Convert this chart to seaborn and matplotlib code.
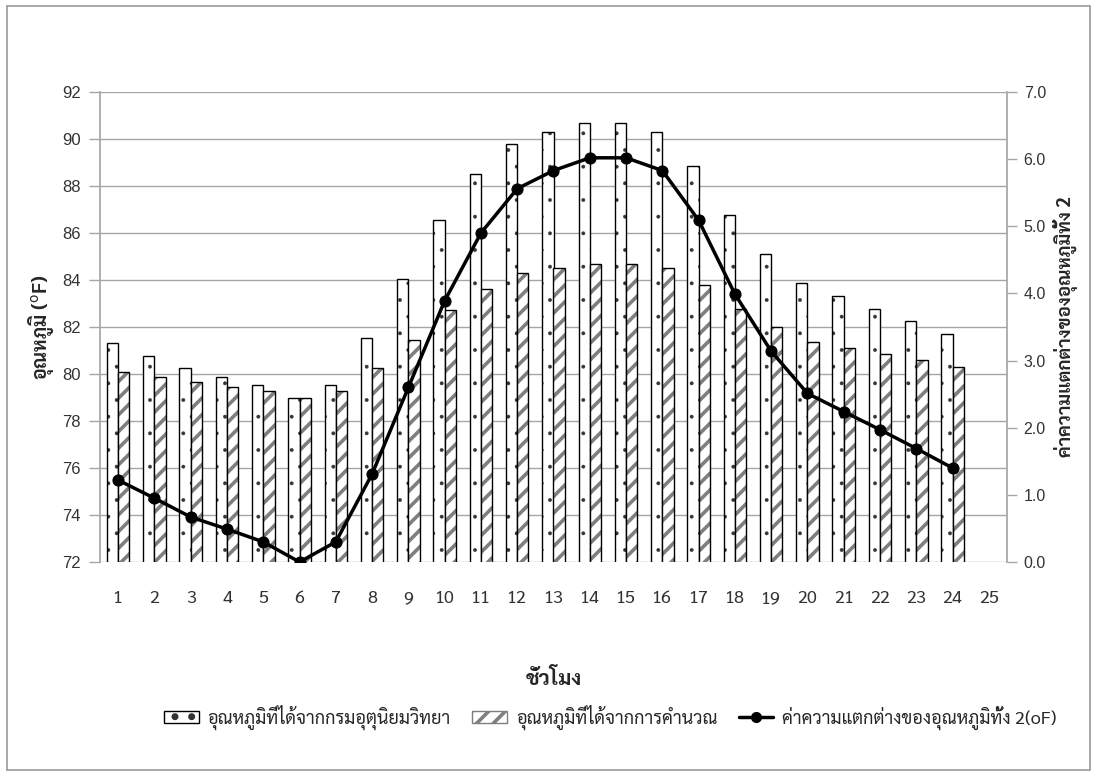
import matplotlib
matplotlib.use("Agg")
import matplotlib.pyplot as plt
import matplotlib.colors as mcolors
from matplotlib import font_manager
from matplotlib.patches import Patch, Rectangle
from matplotlib.lines import Line2D
import numpy as np
import pandas as pd
import seaborn as sns

# ---------------- data ----------------
hours = [str(h) for h in range(1, 26)]
met_temp = [81.31, 80.77, 80.24, 79.86, 79.52, 79.00, 79.52, 81.52, 84.03, 86.57,
            88.50, 89.79, 90.31, 90.67, 90.67, 90.31, 88.87, 86.75, 85.12, 83.86,
            83.31, 82.75, 82.24, 81.69]
calc_temp = [80.10, 79.86, 79.65, 79.43, 79.26, 79.00, 79.26, 80.24, 81.43, 82.71,
             83.60, 84.29, 84.52, 84.70, 84.70, 84.52, 83.77, 82.75, 81.99, 81.37,
             81.09, 80.84, 80.58, 80.30]
diff = [1.22, 0.95, 0.67, 0.49, 0.30, 0.00, 0.30, 1.31, 2.60, 3.89,
        4.90, 5.56, 5.83, 6.02, 6.02, 5.83, 5.09, 3.99, 3.14, 2.51,
        2.24, 1.97, 1.69, 1.40]
series_names = ["อุณหภูมิที่ได้จากกรมอุตุนิยมวิทยา", "อุณหภูมิที่ได้จากการคำนวณ"]
line_name = "ค่าความแตกต่างของอุณหภูมิทั้ง 2(oF)"
y_left_label = "อุณหภูมิ ($^{\\mathrm{o}}$F)"
y_right_label = "ค่าความแตกต่างของอุณหภูมิทั้ง 2"
x_label = "ชั่วโมง"
left_ticks = [72, 74, 76, 78, 80, 82, 84, 86, 88, 90, 92]
right_ticks = [0, 1, 2, 3, 4, 5, 6, 7]

# ---------------- fonts ----------------
names = {f.name for f in font_manager.fontManager.ttflist}
thai = "Sarabun" if "Sarabun" in names else "Noto Sans Thai Looped"
thai_family = [thai, "DejaVu Sans"]
num_font = "Liberation Sans" if "Liberation Sans" in names else "DejaVu Sans"

sns.set_theme(style="white")
plt.rcParams["font.family"] = thai_family
plt.rcParams["hatch.linewidth"] = 2.6

# ---------------- figure ----------------
fig = plt.figure(figsize=(10.96, 7.76), dpi=100)
ax = fig.add_axes([100 / 1096, 1 - 562 / 776, 907 / 1096, 470 / 776])

n = len(met_temp)
df = pd.DataFrame({
    "hour": hours[:n] * 2,
    "temp": met_temp + calc_temp,
    "series": [series_names[0]] * n + [series_names[1]] * n,
})
sns.barplot(data=df, x="hour", y="temp", hue="series", order=hours,
            hue_order=series_names, palette=["white", "white"], width=0.62,
            gap=0, edgecolor="black", linewidth=1.0, ax=ax, legend=False,
            errorbar=None)

hatches = {0: ".", 1: "//"}
hcolors = {0: "#333333", 1: "#7f7f7f"}
hlw = {0: 0.3, 1: 2.6}


def style_hatch(p, i):
    p.set_hatch(hatches[i])
    c = mcolors.to_rgba(hcolors[i])
    if hasattr(p, "set_hatchcolor"):
        p.set_hatchcolor(c)
    p._hatch_color = c
    if hasattr(p, "set_hatch_linewidth"):
        p.set_hatch_linewidth(hlw[i])
    else:
        p._hatch_linewidth = hlw[i]


for i, cont in enumerate(ax.containers):
    for p in cont:
        style_hatch(p, i)

ax.set_ylim(72, 92)
ax.set_xlim(-0.5, 24.5)
ax.set_yticks(left_ticks)
ax.yaxis.grid(True, color="#a6a6a6", linewidth=1.0)
ax.xaxis.grid(False)
ax.set_axisbelow(True)
for s in ["top", "bottom", "right"]:
    ax.spines[s].set_visible(False)
ax.spines["left"].set_color("#a6a6a6")
ax.tick_params(axis="y", which="both", left=True, length=8, width=1,
               color="#a6a6a6", labelsize=12, pad=6, labelcolor="#333333")
ax.tick_params(axis="x", length=0, pad=20, labelsize=13, labelcolor="#333333")
for lab in ax.get_yticklabels():
    lab.set_family(num_font)
ax.set_xlabel(x_label, fontsize=15, fontweight="bold", labelpad=45)
ax.set_ylabel(y_left_label, fontsize=14, fontweight="bold", labelpad=4)

ax2 = ax.twinx()
sns.lineplot(x=np.arange(n), y=diff, ax=ax2, color="black", linewidth=2.5,
             marker="o", markersize=8, markeredgecolor="black", legend=False)
ax2.set_ylim(0, 7)
ax2.set_xlim(-0.5, 24.5)
ax2.set_yticks(right_ticks)
ax2.set_yticklabels([f"{v:.1f}" for v in right_ticks])
ax2.grid(False)
for s in ["top", "bottom", "left"]:
    ax2.spines[s].set_visible(False)
ax2.spines["right"].set_color("#a6a6a6")
ax2.tick_params(axis="y", right=True, length=7, width=1, color="#a6a6a6",
                labelsize=11.5, pad=5, labelcolor="#333333")
for lab in ax2.get_yticklabels():
    lab.set_family(num_font)
ax2.set_ylabel(y_right_label, fontsize=13.5, fontweight="bold", labelpad=5)

# legend
h1 = Patch(facecolor="white", edgecolor="black", label=series_names[0])
h2 = Patch(facecolor="white", edgecolor="#7f7f7f", label=series_names[1])
style_hatch(h1, 0)
style_hatch(h2, 1)
h3 = Line2D([0], [0], color="black", linewidth=2.5, marker="o", markersize=7,
            label=line_name)
fig.legend(handles=[h1, h2, h3], loc="center", bbox_to_anchor=(0.557, 0.076),
           ncol=3, frameon=False, fontsize=13, handlelength=1.9,
           handletextpad=0.5, columnspacing=1.2)

fig.patches.append(Rectangle((7 / 1096, 6 / 776), 1083 / 1096, 764 / 776,
                             transform=fig.transFigure, fill=False,
                             edgecolor="#9a9a9a", linewidth=1.2))

fig.savefig("out.png", dpi=100)
